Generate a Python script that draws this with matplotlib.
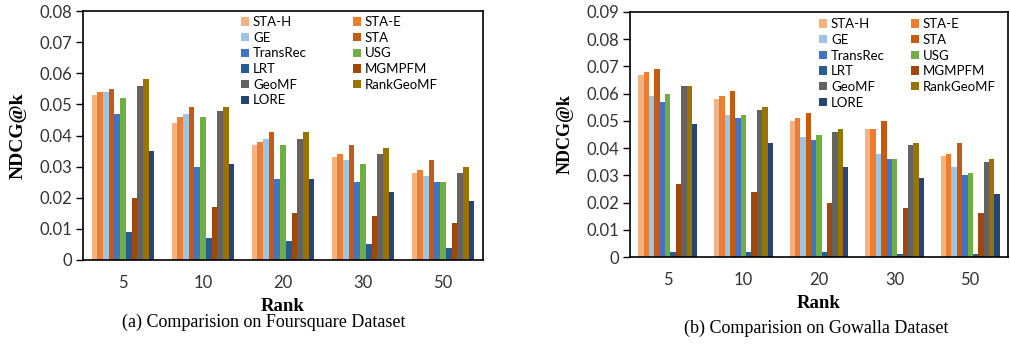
import numpy as np
import matplotlib
matplotlib.use("Agg")
import matplotlib.pyplot as plt

ranks = ["5", "10", "20", "30", "50"]
methods = ["STA-H", "STA-E", "GE", "STA", "TransRec", "USG", "LRT",
           "MGMPFM", "GeoMF", "RankGeoMF", "LORE"]
colors = ["#F4B183", "#ED7D31", "#9DC3E6", "#C55A11", "#4472C4", "#70AD47",
          "#255E91", "#9E480E", "#636363", "#997300", "#264478"]

# NDCG@k, one row per method, columns follow ranks
foursquare = [
    [0.053, 0.044, 0.037, 0.033, 0.028],  # STA-H
    [0.054, 0.046, 0.038, 0.034, 0.029],  # STA-E
    [0.054, 0.047, 0.039, 0.032, 0.027],  # GE
    [0.055, 0.049, 0.041, 0.037, 0.032],  # STA
    [0.047, 0.030, 0.026, 0.025, 0.025],  # TransRec
    [0.052, 0.046, 0.037, 0.031, 0.025],  # USG
    [0.009, 0.007, 0.006, 0.005, 0.004],  # LRT
    [0.020, 0.017, 0.015, 0.014, 0.012],  # MGMPFM
    [0.056, 0.048, 0.039, 0.034, 0.028],  # GeoMF
    [0.058, 0.049, 0.041, 0.036, 0.030],  # RankGeoMF
    [0.035, 0.031, 0.026, 0.022, 0.019],  # LORE
]
gowalla = [
    [0.067, 0.058, 0.050, 0.047, 0.037],  # STA-H
    [0.068, 0.059, 0.051, 0.047, 0.038],  # STA-E
    [0.059, 0.052, 0.044, 0.038, 0.033],  # GE
    [0.069, 0.061, 0.053, 0.050, 0.042],  # STA
    [0.057, 0.051, 0.043, 0.036, 0.030],  # TransRec
    [0.060, 0.052, 0.045, 0.036, 0.031],  # USG
    [0.002, 0.002, 0.002, 0.001, 0.001],  # LRT
    [0.027, 0.024, 0.020, 0.018, 0.016],  # MGMPFM
    [0.063, 0.054, 0.046, 0.041, 0.035],  # GeoMF
    [0.063, 0.055, 0.047, 0.042, 0.036],  # RankGeoMF
    [0.049, 0.042, 0.033, 0.029, 0.023],  # LORE
]

W, H = 1010, 352
fig = plt.figure(figsize=(W / 100, H / 100), dpi=100)

tick_font = "Lato"
serif = "Liberation Serif"


def draw(rect, data, ymax, caption, leg_anchor, colspace, cap_x, cap_y, ylab_size):
    ax = fig.add_axes(rect)
    x = np.arange(len(ranks))
    n = len(methods)
    width = 0.78 / n
    handles = []
    for i in range(n):
        b = ax.bar(x - 0.39 + width * (i + 0.5), data[i], width,
                   color=colors[i], label=methods[i], linewidth=0)
        handles.append(b)
    ax.set_xlim(-0.5, len(ranks) - 0.5)
    ax.set_ylim(0, ymax)
    ax.set_yticks(np.arange(0, ymax + 1e-9, 0.01))
    ax.set_yticklabels(["0"] + ["%.2f" % v for v in np.arange(0.01, ymax + 1e-9, 0.01)],
                       fontfamily=tick_font, fontsize=12, color="#333333")
    ax.set_xticks(x)
    ax.set_xticklabels(ranks, fontfamily=tick_font, fontsize=12, color="#333333")
    ax.tick_params(axis="x", length=0, pad=11)
    ax.tick_params(axis="y", length=5, width=1, direction="out", pad=3)
    for s in ax.spines.values():
        s.set_linewidth(1.2)
    ax.set_ylabel("NDCG@k", fontfamily=serif, fontweight="bold", fontsize=ylab_size, labelpad=9)
    ax.set_xlabel("Rank", fontfamily=serif, fontweight="bold", fontsize=13.5, labelpad=5)
    # legend rows read left-to-right, so reorder for column filling
    order = list(range(0, n, 2)) + list(range(1, n, 2))
    ax.legend([handles[k] for k in order], [methods[k] for k in order],
              ncol=2, loc="upper left", bbox_to_anchor=leg_anchor, frameon=False,
              prop={"family": tick_font, "size": 9.5}, handlelength=0.6,
              handleheight=0.6, handletextpad=0.3, labelspacing=0.28,
              columnspacing=colspace, borderpad=0, borderaxespad=0)
    fig.text(cap_x / W, cap_y, caption, ha="center", va="center",
             fontfamily=serif, fontsize=13)
    return ax


draw([83 / W, 1 - 260 / H, 400 / W, 249 / H], foursquare, 0.08,
     "(a) Comparision on Foursquare Dataset", (0.395, 0.98), 3.5, 264, 1 - 322 / H, 14)
draw([630 / W, 1 - 257 / H, 378 / W, 245 / H], gowalla, 0.09,
     "(b) Comparision on Gowalla Dataset", (0.50, 0.975), 2.0, 816, 1 - 328 / H, 13)

fig.savefig("out.png", dpi=100)
